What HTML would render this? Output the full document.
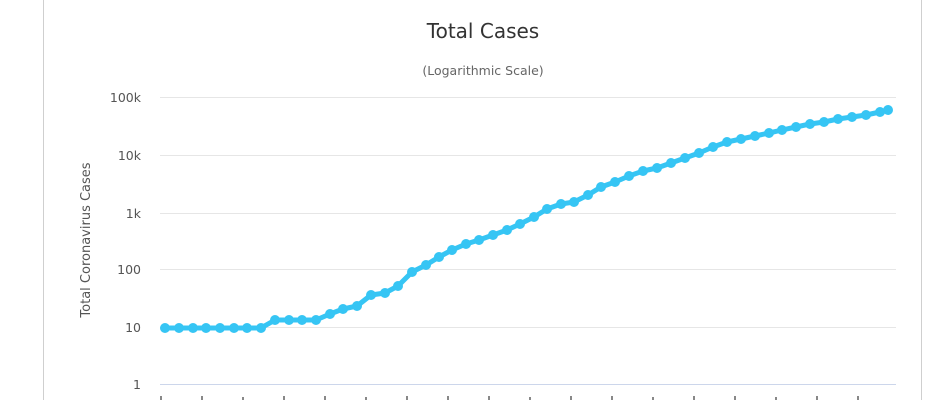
<!DOCTYPE html>
<html><head><meta charset="utf-8"><style>
html,body{margin:0;padding:0;background:#fff;width:951px;height:400px;overflow:hidden}
</style></head><body>
<svg width="951" height="400" xmlns="http://www.w3.org/2000/svg" font-family="DejaVu Sans, Liberation Sans, sans-serif">
<rect width="951" height="400" fill="#fff"/>
<line x1="43.5" y1="0" x2="43.5" y2="400" stroke="#cfcfcf" stroke-width="1"/>
<line x1="921.5" y1="0" x2="921.5" y2="400" stroke="#cfcfcf" stroke-width="1"/>
<text x="483" y="38" text-anchor="middle" font-size="20" fill="#333">Total Cases</text>
<text x="483" y="75" text-anchor="middle" font-size="12.5" fill="#666">(Logarithmic Scale)</text>
<g stroke="#e6e6e6" stroke-width="1">
<line x1="160" y1="97.5" x2="896" y2="97.5"/>
<line x1="160" y1="155.5" x2="896" y2="155.5"/>
<line x1="160" y1="213.5" x2="896" y2="213.5"/>
<line x1="160" y1="269.5" x2="896" y2="269.5"/>
<line x1="160" y1="327.5" x2="896" y2="327.5"/>
</g>
<line x1="160" y1="384.5" x2="896" y2="384.5" stroke="#ccd6eb" stroke-width="1"/>
<g font-size="12.5" fill="#555" text-anchor="end">
<text x="141" y="102">100k</text>
<text x="141" y="160">10k</text>
<text x="141" y="218">1k</text>
<text x="141" y="274">100</text>
<text x="141" y="332">10</text>
<text x="141" y="389">1</text>
</g>
<text transform="translate(90,240) rotate(-90)" text-anchor="middle" font-size="13" fill="#555">Total Coronavirus Cases</text>
<g fill="#888">
<rect x="160" y="396" width="2" height="4"/><rect x="201" y="396" width="2" height="4"/><rect x="242" y="397" width="2" height="3"/><rect x="283" y="396" width="2" height="4"/><rect x="324" y="396" width="2" height="4"/><rect x="365" y="397" width="2" height="3"/><rect x="406" y="396" width="2" height="4"/><rect x="447" y="396" width="2" height="4"/><rect x="488" y="396" width="2" height="4"/><rect x="529" y="397" width="2" height="3"/><rect x="570" y="396" width="2" height="4"/><rect x="611" y="396" width="2" height="4"/><rect x="652" y="397" width="2" height="3"/><rect x="693" y="396" width="2" height="4"/><rect x="734" y="396" width="2" height="4"/><rect x="775" y="397" width="2" height="3"/><rect x="816" y="396" width="2" height="4"/><rect x="857" y="396" width="2" height="4"/>
</g>
<polyline fill="none" stroke="#36c5f4" stroke-width="5" stroke-linejoin="round" points="165,328 179,328 193,328 206,328 220,328 234,328 247,328 261,328 275,320 289,320 302,320 316,320 330,314 343,309 357,306 371,295 385,293 398,286 412,272 426,265 439,257 452,250 466,244 479,240 493,235 507,230 520,224 534,217 547,209 561,204 574,202 588,195 601,187 615,182 629,176 643,171 657,168 671,163 685,158 699,153 713,147 727,142 741,139 755,136 769,133 782,130 796,127 810,124 824,122 838,119 852,117 866,115 880,112 888,110"/>
<g fill="#36c5f4">
<circle cx="165" cy="328" r="5"/><circle cx="179" cy="328" r="5"/><circle cx="193" cy="328" r="5"/><circle cx="206" cy="328" r="5"/><circle cx="220" cy="328" r="5"/><circle cx="234" cy="328" r="5"/><circle cx="247" cy="328" r="5"/><circle cx="261" cy="328" r="5"/><circle cx="275" cy="320" r="5"/><circle cx="289" cy="320" r="5"/><circle cx="302" cy="320" r="5"/><circle cx="316" cy="320" r="5"/><circle cx="330" cy="314" r="5"/><circle cx="343" cy="309" r="5"/><circle cx="357" cy="306" r="5"/><circle cx="371" cy="295" r="5"/><circle cx="385" cy="293" r="5"/><circle cx="398" cy="286" r="5"/><circle cx="412" cy="272" r="5"/><circle cx="426" cy="265" r="5"/><circle cx="439" cy="257" r="5"/><circle cx="452" cy="250" r="5"/><circle cx="466" cy="244" r="5"/><circle cx="479" cy="240" r="5"/><circle cx="493" cy="235" r="5"/><circle cx="507" cy="230" r="5"/><circle cx="520" cy="224" r="5"/><circle cx="534" cy="217" r="5"/><circle cx="547" cy="209" r="5"/><circle cx="561" cy="204" r="5"/><circle cx="574" cy="202" r="5"/><circle cx="588" cy="195" r="5"/><circle cx="601" cy="187" r="5"/><circle cx="615" cy="182" r="5"/><circle cx="629" cy="176" r="5"/><circle cx="643" cy="171" r="5"/><circle cx="657" cy="168" r="5"/><circle cx="671" cy="163" r="5"/><circle cx="685" cy="158" r="5"/><circle cx="699" cy="153" r="5"/><circle cx="713" cy="147" r="5"/><circle cx="727" cy="142" r="5"/><circle cx="741" cy="139" r="5"/><circle cx="755" cy="136" r="5"/><circle cx="769" cy="133" r="5"/><circle cx="782" cy="130" r="5"/><circle cx="796" cy="127" r="5"/><circle cx="810" cy="124" r="5"/><circle cx="824" cy="122" r="5"/><circle cx="838" cy="119" r="5"/><circle cx="852" cy="117" r="5"/><circle cx="866" cy="115" r="5"/><circle cx="880" cy="112" r="5"/><circle cx="888" cy="110" r="5"/>
</g>
</svg>
</body></html>
